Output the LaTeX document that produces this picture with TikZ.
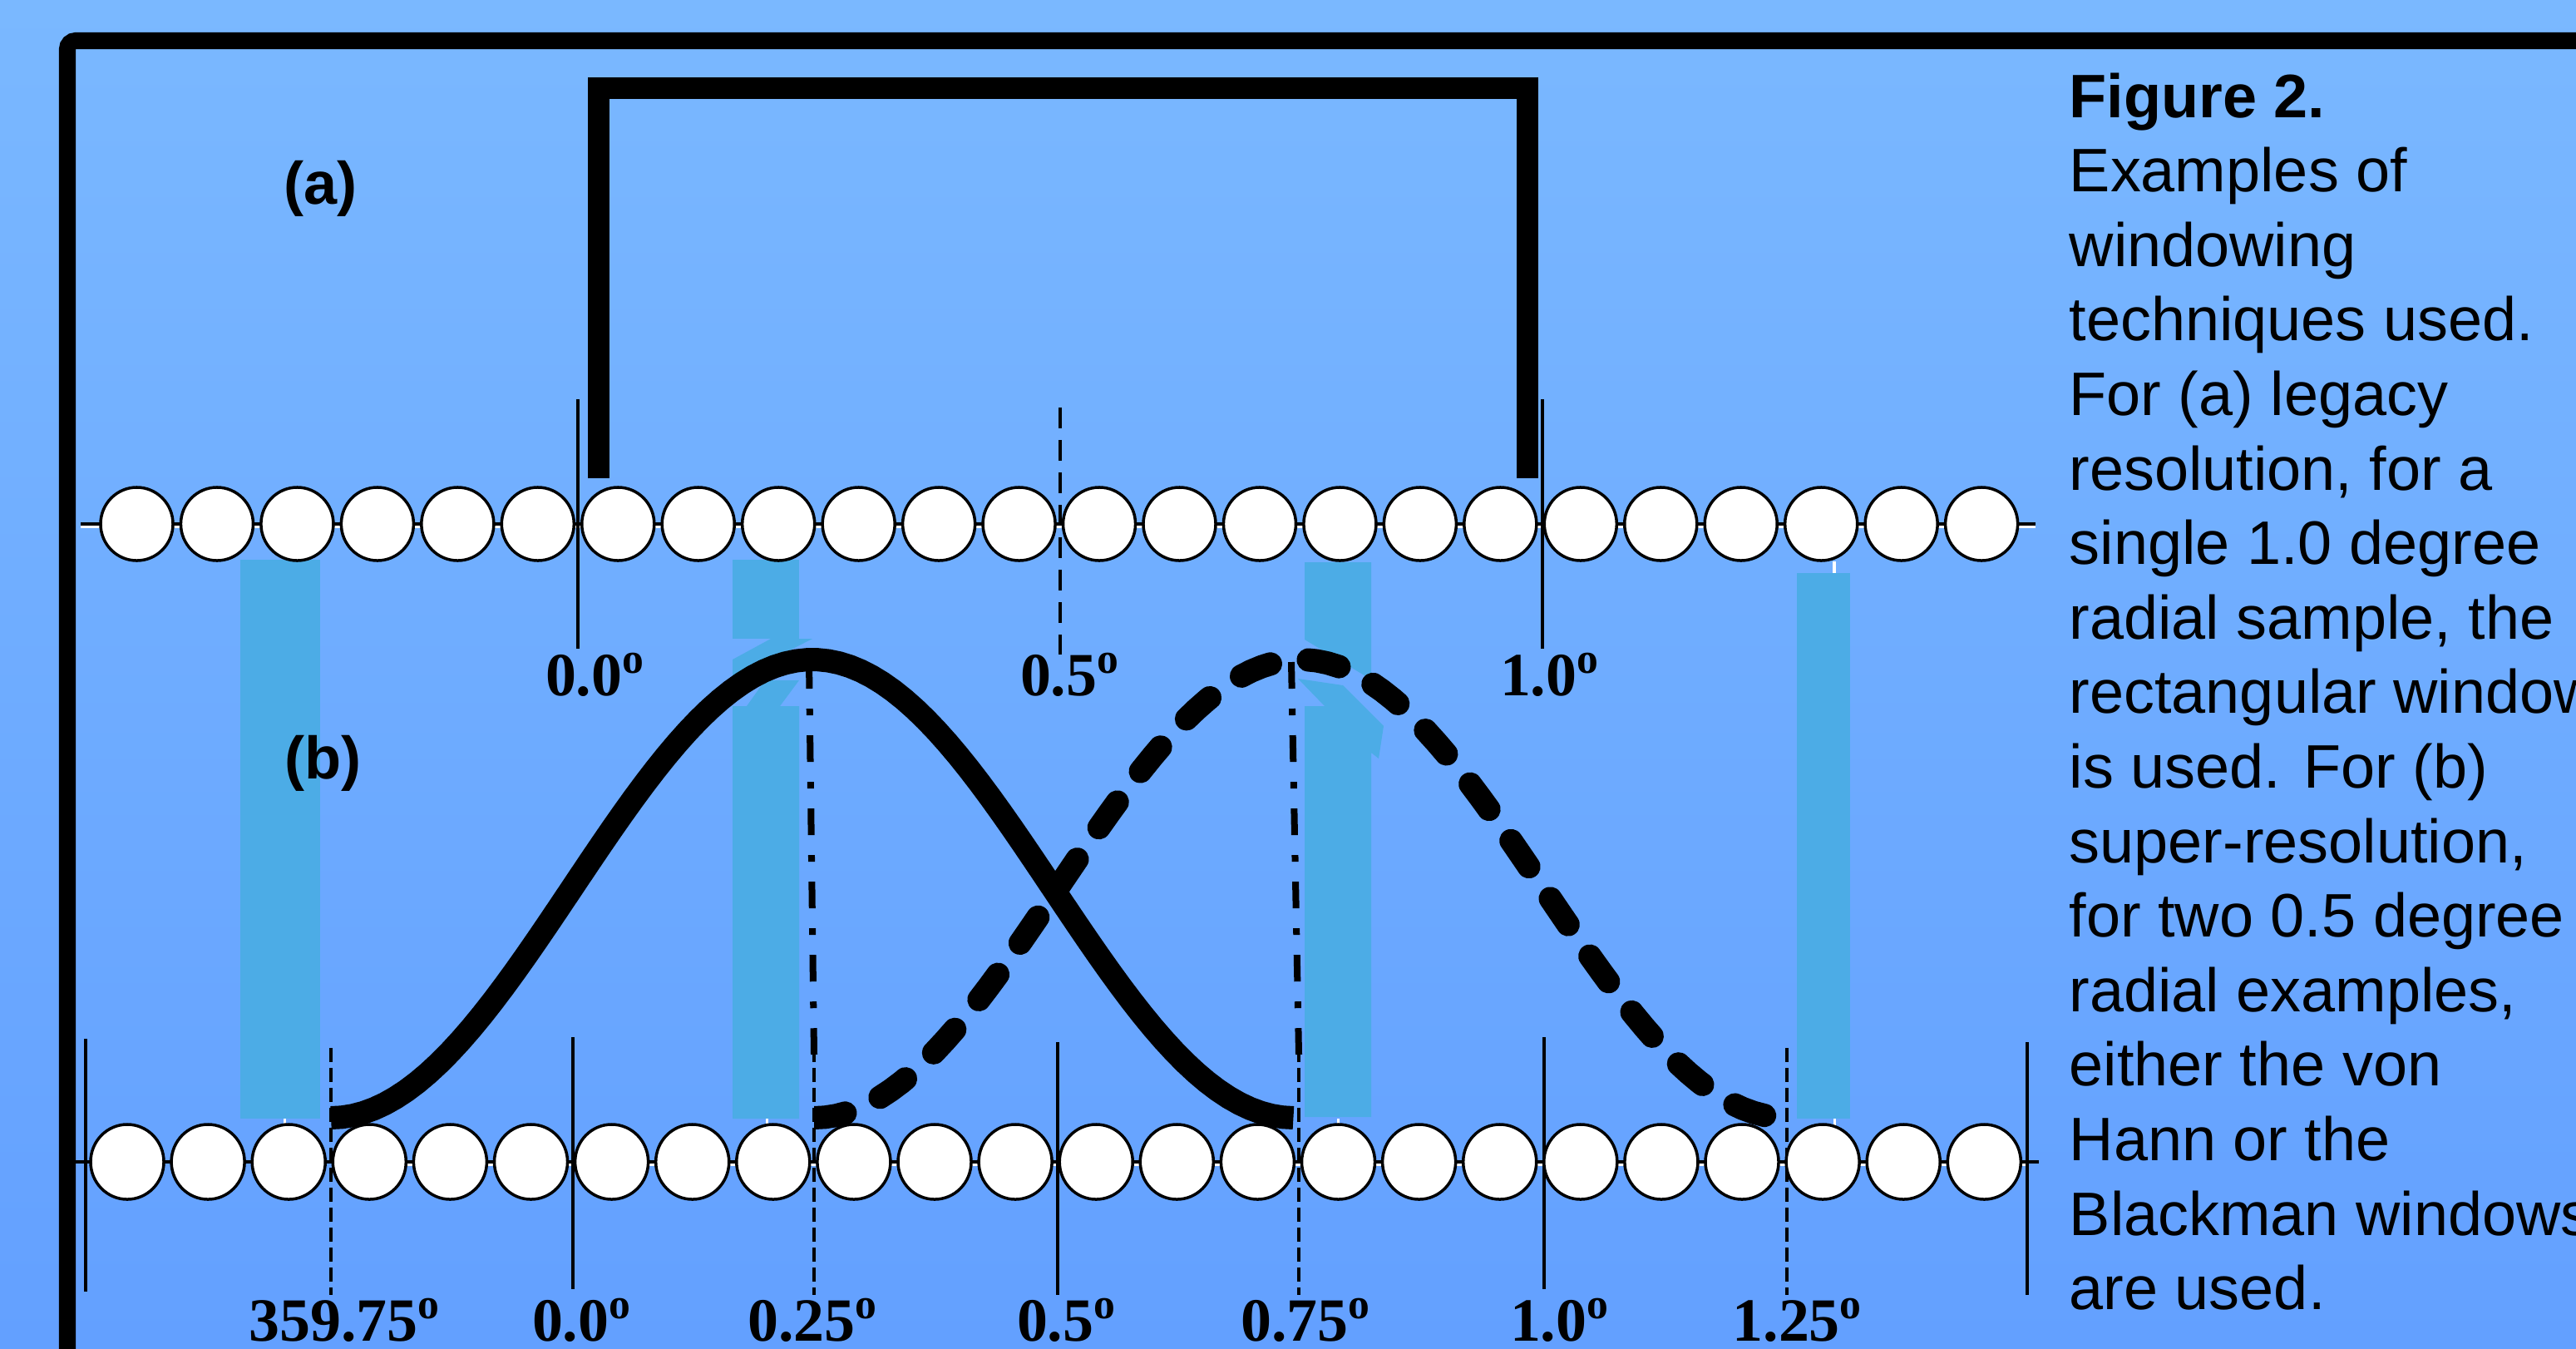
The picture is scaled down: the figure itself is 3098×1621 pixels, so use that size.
\documentclass[tikz,border=0pt]{standalone}
\usepackage{fontspec}
\setmainfont{Liberation Sans}
\newfontfamily\tickfont{Liberation Serif}
\usepackage{tikz}
\usetikzlibrary{shapes.geometric}
\definecolor{skytop}{RGB}{122,184,255}
\definecolor{skybot}{RGB}{99,160,255}
\definecolor{barblue}{RGB}{76,172,230}

\begin{document}
\begin{tikzpicture}[x=0.01cm,y=-0.01cm,
  sample/.style={ellipse,draw=black,fill=white,line width=0.035cm,inner sep=0pt,minimum width=0.87cm,minimum height=0.88cm},
  thinline/.style={line width=0.035cm},
  shadowline/.style={white,line width=0.03cm},
  ticklabel/.style={font=\tickfont\bfseries\fontsize{21}{21}\selectfont,inner sep=0pt,anchor=base},
  partlabel/.style={font=\bfseries\fontsize{20.5}{20.5}\selectfont,inner sep=0pt,anchor=base west},
  capline/.style={font=\fontsize{21}{25}\selectfont,inner sep=0pt,anchor=base west},
  windowcurve/.style={line width=0.28cm},
  dashdot/.style={line width=0.08cm,dash pattern=on 0.32cm off 0.24cm on 0.08cm off 0.24cm},
  bar/.style={fill=barblue}]
\shade[top color=skytop,bottom color=skybot] (0,0) rectangle (3098,1621);
\useasboundingbox (0,0) rectangle (3098,1621);

\draw[line width=0.2cm,rounded corners=0.1cm] (81,1800) -- (81,49) -- (3300,49);
\draw[line width=0.26cm] (720,575) -- (720,106) -- (1837,106) -- (1837,575);

\draw[shadowline] (97,633) -- (2448,633);
\draw[thinline] (97,630) -- (2448,630);
\draw[thinline] (695,480) -- (695,780);
\draw[thinline] (1855,480) -- (1855,780);
\draw[thinline,dash pattern=on 0.25cm off 0.14cm] (1275,490) -- (1275,787);

\draw[shadowline] (490,1400) -- (2440,1400);
\draw[thinline] (91,1397) -- (2452,1397);
\foreach \xx/\ya/\yb in {103/1249/1553, 689/1247/1550, 1272/1253/1557, 1857/1247/1550, 2438/1253/1557}
  \draw[thinline] (\xx,\ya) -- (\xx,\yb);
\foreach \xx in {398,979,1562,2149}
  \draw[thinline,dash pattern=on 0.17cm off 0.07cm] (\xx,1260) -- (\xx,1557);

\fill[bar] (289,673) rectangle (385,1345);
\fill[bar] (881,673) rectangle (961,768);
\fill[bar] (881,793) -- (927,768) -- (977,768) -- (881,817) -- cycle;
\fill[bar] (881,849) -- (898,849) -- (920,818) -- (961,818) -- (938,849) -- (961,849) -- (961,1345) -- (881,1345) -- cycle;
\fill[bar] (1569,676) -- (1649,676) -- (1649,817) -- (1569,769) -- cycle;
\fill[bar] (1569,849) -- (1593,849) -- (1561,816) -- (1615,824) -- (1664,873) -- (1658,912) -- (1649,905) -- (1649,1343) -- (1569,1343) -- cycle;
\fill[bar] (2161,689) rectangle (2225,1345);
\foreach \xx in {342,922,1609,2206}
  \draw[shadowline] (\xx,1345) -- (\xx,1353);
\draw[shadowline,line width=0.04cm] (2206,675) -- (2206,689);

\foreach \k in {0,...,23}
  \node[sample] (up\k) at ({164.5+96.46*\k},630) {};
\foreach \k in {0,...,23}
  \node[sample,minimum width=0.88cm,minimum height=0.9cm] (lo\k) at ({153+97.1*\k},1397) {};

\draw[dashdot] (973,796) -- (979,1268);
\draw[dashdot] (1553,796) -- (1562,1268);

\draw[windowcurve] plot[domain=0:1,samples=90] ({398+1158*\x},{1344-275.5*(1-cos(360*\x))});
\begin{scope}
\clip (979,0) rectangle (2149,1621);
\draw[windowcurve,line cap=round,dash pattern=on 0.38cm off 0.46cm] plot[domain=0:1,samples=90] ({979+1170*\x},{1344-275.5*(1-cos(360*\x))});
\end{scope}

\foreach \xx/\txt [count=\i] in {716/0.0, 1287/0.5, 1864/1.0}
  \node[ticklabel] (uplab\i) at (\xx,836) {\txt\textsuperscript{o}};
\foreach \xx/\txt [count=\i] in {415/359.75, 700/0.0, 978/0.25, 1283/0.5, 1571/0.75, 1876/1.0, 2162/1.25}
  \node[ticklabel] (lolab\i) at (\xx,1612) {\txt\textsuperscript{o}};

\node[partlabel] (parta) at (341,245) {(a)};
\node[partlabel] (partb) at (342,936) {(b)};

\foreach \txt [count=\i] in {{\bfseries Figure 2.}, Examples of, windowing, techniques used., For (a) legacy, {resolution, for a}, single 1.0 degree, {radial sample, the}, rectangular window, is used. For (b), {super-resolution,}, for two 0.5 degree, {radial examples,}, either the von, Hann or the, Blackman windows, are used.}
  \node[capline] (cap\i) at (2488,{141+89.6*(\i-1)}) {\txt};
\end{tikzpicture}
\end{document}
